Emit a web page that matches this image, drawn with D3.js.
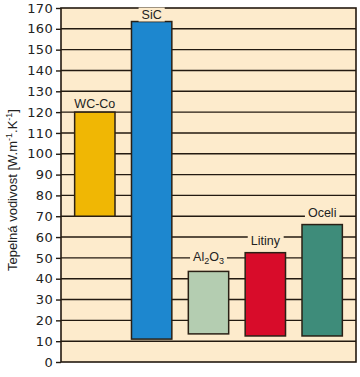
<!DOCTYPE html>
<html><head><meta charset="utf-8">
<script src="https://cdn.jsdelivr.net/npm/d3@7"></script>
<style>body{margin:0;background:#fff;}svg{display:block;}</style>
</head><body>
<script>
const categories = ["WC-Co", "SiC", "Al2O3", "Litiny", "Oceli"];
const lowValues = [70, 11, 13.5, 12.5, 12.5];
const highValues = [120, 163.5, 43.5, 52.5, 66];
const colors = ["#f0b704", "#1d87cf", "#b4cdb1", "#d80c2a", "#3e8c7a"];
const yTicks = d3.range(0, 171, 10);
const yTitle = "Tepelná vodivost [W.m-1.K-1]";

const W = 360, H = 377;
const m = {left: 61, right: 4, top: 8, bottom: 15};
const labelGap = [9, 7, 15, 12, 12];
const svg = d3.select("body").append("svg").attr("width", W).attr("height", H);

const x = d3.scaleBand().domain(categories).range([m.left, W - m.right]).paddingInner(0.29).paddingOuter(0.24);
const y = d3.scaleLinear().domain([0, 170]).range([H - m.bottom, m.top]);

svg.append("rect").attr("x", m.left).attr("y", m.top)
  .attr("width", W - m.right - m.left).attr("height", y(0) - m.top)
  .attr("fill", "#fdebcc");

// gridlines
svg.append("g").selectAll("line").data(yTicks.filter(d => d > 0 && d < 170)).join("line")
  .attr("x1", m.left).attr("x2", W - m.right)
  .attr("y1", d => y(d)).attr("y2", d => y(d))
  .attr("stroke", "#231a10").attr("stroke-width", 1.4);

// axis
const ax = svg.append("g").attr("transform", `translate(${m.left},0)`)
  .call(d3.axisLeft(y).tickValues(yTicks).tickSize(5).tickPadding(3).tickSizeOuter(0));
ax.select(".domain").remove();
ax.selectAll("line").attr("stroke", "#231a10").attr("stroke-width", 1.4);
ax.selectAll("text").attr("font-family", "DejaVu Sans, Verdana, sans-serif")
  .attr("font-size", 13).attr("fill", "#222").attr("letter-spacing", "0.3");

// frame
svg.append("rect").attr("x", m.left).attr("y", m.top)
  .attr("width", W - m.right - m.left).attr("height", y(0) - m.top)
  .attr("fill", "none").attr("stroke", "#231a10").attr("stroke-width", 1.6);

// bars
svg.append("g").selectAll("rect").data(categories).join("rect")
  .attr("x", d => x(d)).attr("width", x.bandwidth())
  .attr("y", (d, i) => y(highValues[i]))
  .attr("height", (d, i) => y(lowValues[i]) - y(highValues[i]))
  .attr("fill", (d, i) => colors[i])
  .attr("stroke", "#2a2015").attr("stroke-width", 1.5);

// labels
const lg = svg.append("g").attr("font-family", "Liberation Sans, Arial, sans-serif")
  .attr("font-size", 12.5).attr("fill", "#222");
categories.forEach((c, i) => {
  const cx = x(c) + x.bandwidth() / 2;
  const yy = y(highValues[i]) - labelGap[i];
  const t = lg.append("text").attr("x", cx).attr("y", yy + 4.5).attr("text-anchor", "middle");
  if (c === "Al2O3") {
    t.append("tspan").text("Al");
    t.append("tspan").text("2").attr("font-size", 9).attr("dy", 3);
    t.append("tspan").text("O").attr("dy", -3);
    t.append("tspan").text("3").attr("font-size", 9).attr("dy", 3);
  } else t.text(c);
  const bb = t.node().getBBox();
  lg.insert("rect", "text").attr("x", bb.x - 3).attr("y", yy - 7).attr("width", bb.width + 6).attr("height", 14)
    .attr("fill", "#fdebcc");
});

// y title
const yt = svg.append("text").attr("transform", `translate(17,${(m.top + y(0)) / 2 + 5}) rotate(-90)`)
  .attr("text-anchor", "middle").attr("font-family", "Liberation Sans, Arial, sans-serif")
  .attr("font-size", 13).attr("fill", "#222");
yt.append("tspan").text("Tepelná vodivost [W.m");
yt.append("tspan").text("-1").attr("font-size", 9).attr("dy", -5);
yt.append("tspan").text(".K").attr("dy", 5);
yt.append("tspan").text("-1").attr("font-size", 9).attr("dy", -5);
yt.append("tspan").text("]").attr("dy", 5);
</script>
</body></html>
